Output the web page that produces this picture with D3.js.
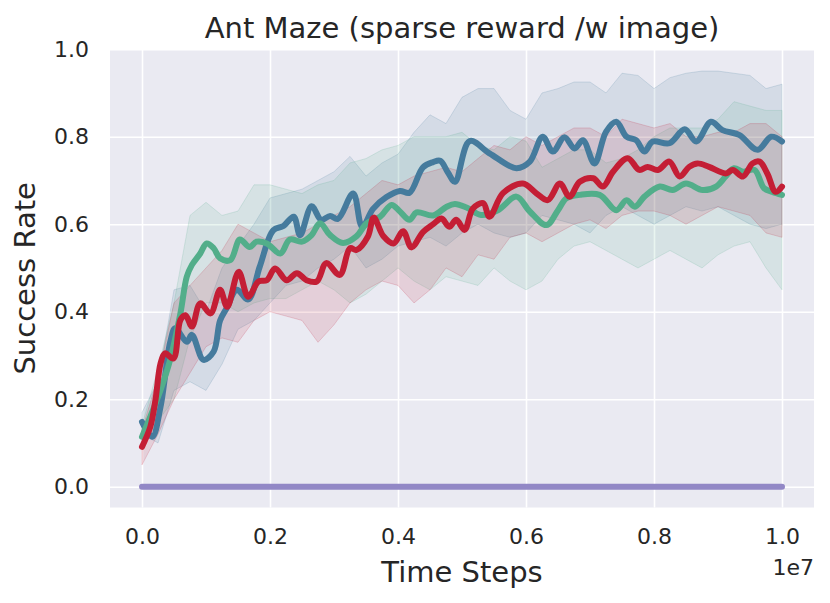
<!DOCTYPE html>
<html lang="en">
<head>
  <meta charset="UTF-8" />
  <title>Ant Maze</title>
  <script src="https://d3js.org/d3.v7.min.js"></script>
  <style>
    body {
      margin: 0;
      background-color: #fff;
      font-family: 'DejaVu Sans', sans-serif;
    }
    svg text {
      fill: #262626;
    }
  </style>
</head>
<body>
  <svg id="chart" width="830" height="603"></svg>

  <script>
    // x values are in units of 1e7 time steps
    const xTicks = [0, 0.2, 0.4, 0.6, 0.8, 1.0];
    const yTicks = [0, 0.2, 0.4, 0.6, 0.8, 1.0];

    const blueMean = [
      [0, 0.148], [0.016, 0.114], [0.029, 0.183], [0.044, 0.33], [0.052, 0.362], [0.07, 0.331],
      [0.078, 0.347], [0.096, 0.29], [0.112, 0.309], [0.122, 0.38], [0.133, 0.41], [0.148, 0.45],
      [0.166, 0.428], [0.184, 0.503], [0.205, 0.586], [0.221, 0.596], [0.237, 0.617], [0.247, 0.575],
      [0.265, 0.641], [0.28, 0.61], [0.294, 0.619], [0.306, 0.612], [0.33, 0.67], [0.344, 0.594],
      [0.361, 0.635], [0.382, 0.662], [0.403, 0.676], [0.418, 0.672], [0.439, 0.73], [0.455, 0.742],
      [0.466, 0.745], [0.478, 0.718], [0.489, 0.697], [0.512, 0.79], [0.543, 0.762], [0.585, 0.728],
      [0.606, 0.743], [0.626, 0.8], [0.642, 0.766], [0.66, 0.799], [0.676, 0.773], [0.689, 0.792],
      [0.707, 0.739], [0.725, 0.811], [0.741, 0.834], [0.757, 0.8], [0.772, 0.792], [0.785, 0.766],
      [0.798, 0.789], [0.824, 0.785], [0.848, 0.817], [0.866, 0.789], [0.889, 0.834], [0.907, 0.815],
      [0.933, 0.804], [0.962, 0.77], [0.983, 0.8], [1.0, 0.789]
    ];

    const greenMean = [
      [0, 0.114], [0.013, 0.16], [0.029, 0.221], [0.044, 0.29], [0.06, 0.396], [0.07, 0.48],
      [0.078, 0.507], [0.091, 0.533], [0.101, 0.556], [0.112, 0.545], [0.122, 0.522], [0.138, 0.518],
      [0.153, 0.565], [0.168, 0.548], [0.179, 0.56], [0.195, 0.556], [0.216, 0.533], [0.231, 0.565],
      [0.25, 0.56], [0.265, 0.575], [0.278, 0.602], [0.294, 0.575], [0.314, 0.557], [0.335, 0.572],
      [0.351, 0.602], [0.372, 0.617], [0.39, 0.644], [0.403, 0.629], [0.418, 0.61], [0.429, 0.627],
      [0.455, 0.62], [0.476, 0.64], [0.489, 0.646], [0.507, 0.638], [0.53, 0.621], [0.556, 0.632],
      [0.585, 0.663], [0.606, 0.629], [0.632, 0.598], [0.65, 0.632], [0.663, 0.659], [0.684, 0.667],
      [0.715, 0.667], [0.741, 0.632], [0.757, 0.655], [0.77, 0.64], [0.785, 0.663], [0.809, 0.686],
      [0.829, 0.678], [0.85, 0.693], [0.876, 0.678], [0.897, 0.686], [0.912, 0.709], [0.925, 0.728],
      [0.939, 0.72], [0.957, 0.724], [0.972, 0.682], [0.985, 0.674], [1.0, 0.667]
    ];

    const redMean = [
      [0, 0.091], [0.013, 0.137], [0.021, 0.198], [0.029, 0.282], [0.036, 0.305], [0.049, 0.293],
      [0.06, 0.381], [0.068, 0.392], [0.078, 0.366], [0.091, 0.419], [0.107, 0.396], [0.122, 0.45],
      [0.133, 0.411], [0.151, 0.491], [0.166, 0.434], [0.182, 0.469], [0.195, 0.472], [0.208, 0.499],
      [0.226, 0.472], [0.242, 0.488], [0.257, 0.472], [0.273, 0.469], [0.288, 0.511], [0.309, 0.484],
      [0.325, 0.545], [0.335, 0.541], [0.353, 0.572], [0.362, 0.615], [0.377, 0.573], [0.393, 0.556],
      [0.408, 0.584], [0.421, 0.547], [0.439, 0.582], [0.455, 0.6], [0.468, 0.613], [0.48, 0.594],
      [0.491, 0.61], [0.504, 0.587], [0.517, 0.636], [0.533, 0.648], [0.543, 0.617], [0.564, 0.671],
      [0.595, 0.693], [0.616, 0.671], [0.634, 0.655], [0.653, 0.693], [0.668, 0.663], [0.684, 0.697],
      [0.705, 0.705], [0.72, 0.686], [0.736, 0.72], [0.759, 0.751], [0.777, 0.724], [0.79, 0.731],
      [0.806, 0.724], [0.824, 0.743], [0.84, 0.709], [0.855, 0.731], [0.868, 0.739], [0.886, 0.731],
      [0.912, 0.716], [0.923, 0.724], [0.939, 0.709], [0.954, 0.739], [0.965, 0.743], [0.977, 0.716],
      [0.99, 0.674], [1.0, 0.686]
    ];

    const purpleMean = [[0, 0], [1.0, 0]];

    // shaded spread, sampled every 0.025e7 steps
    const bandSteps = [
      0, 0.025, 0.05, 0.075, 0.1, 0.125, 0.15, 0.175, 0.2, 0.225, 0.25, 0.275, 0.3, 0.325,
      0.35, 0.375, 0.4, 0.425, 0.45, 0.475, 0.5, 0.525, 0.55, 0.575, 0.6, 0.625, 0.65, 0.675,
      0.7, 0.725, 0.75, 0.775, 0.8, 0.825, 0.85, 0.875, 0.9, 0.925, 0.95, 0.975, 1.0
    ];
    const blueLow = [
      0.12, 0.10, 0.22, 0.24, 0.22, 0.28, 0.36, 0.38, 0.42, 0.46, 0.47, 0.50, 0.52, 0.55,
      0.50, 0.52, 0.55, 0.56, 0.57, 0.55, 0.58, 0.60, 0.58, 0.57, 0.58, 0.62, 0.61, 0.60,
      0.58, 0.62, 0.64, 0.62, 0.60, 0.62, 0.64, 0.63, 0.64, 0.62, 0.60, 0.59, 0.60
    ];
    const blueHigh = [
      0.17, 0.24, 0.45, 0.46, 0.40, 0.50, 0.55, 0.60, 0.66, 0.67, 0.68, 0.70, 0.72, 0.755,
      0.71, 0.74, 0.76, 0.81, 0.85, 0.83, 0.89, 0.91, 0.91, 0.86, 0.84, 0.90, 0.91, 0.925,
      0.925, 0.90, 0.945, 0.94, 0.91, 0.935, 0.945, 0.95, 0.95, 0.945, 0.94, 0.91, 0.92
    ];
    const greenLow = [
      0.09, 0.15, 0.20, 0.34, 0.42, 0.42, 0.40, 0.42, 0.43, 0.43, 0.45, 0.47, 0.45, 0.42,
      0.44, 0.47, 0.50, 0.47, 0.45, 0.48, 0.47, 0.46, 0.50, 0.47, 0.45, 0.47, 0.52, 0.55,
      0.56, 0.54, 0.52, 0.50, 0.52, 0.54, 0.52, 0.50, 0.53, 0.55, 0.56, 0.50, 0.45
    ];
    const greenHigh = [
      0.14, 0.27, 0.42, 0.62, 0.65, 0.62, 0.63, 0.69, 0.69, 0.68, 0.67, 0.69, 0.70, 0.74,
      0.75, 0.77, 0.78, 0.80, 0.80, 0.80, 0.81, 0.78, 0.77, 0.80, 0.79, 0.73, 0.75, 0.77,
      0.77, 0.74, 0.75, 0.77, 0.80, 0.82, 0.82, 0.82, 0.84, 0.88, 0.87, 0.86, 0.86
    ];
    const redLow = [
      0.05, 0.12, 0.20, 0.26, 0.32, 0.34, 0.33, 0.38, 0.40, 0.39, 0.38, 0.33, 0.37, 0.42,
      0.45, 0.47, 0.46, 0.42, 0.45, 0.50, 0.48, 0.53, 0.52, 0.57, 0.58, 0.56, 0.58, 0.60,
      0.61, 0.59, 0.62, 0.63, 0.63, 0.62, 0.60, 0.62, 0.64, 0.63, 0.62, 0.58, 0.57
    ];
    const redHigh = [
      0.13, 0.25, 0.42, 0.46, 0.50, 0.54, 0.60, 0.58, 0.56, 0.57, 0.58, 0.60, 0.62, 0.64,
      0.67, 0.70, 0.69, 0.71, 0.72, 0.73, 0.72, 0.75, 0.78, 0.77, 0.80, 0.78, 0.80, 0.82,
      0.82, 0.80, 0.84, 0.83, 0.82, 0.83, 0.80, 0.80, 0.81, 0.81, 0.83, 0.83, 0.80
    ];

    const series = [
      {name: "blue", color: "#457b9d", mean: blueMean, low: blueLow, high: blueHigh},
      {name: "green", color: "#52ae8a", mean: greenMean, low: greenLow, high: greenHigh},
      {name: "red", color: "#c41e35", mean: redMean, low: redLow, high: redHigh}
    ];

    const svg = d3.select("#chart");
    const margin = {top: 49.2, right: 16, bottom: 95.5, left: 110};
    const width = +svg.attr("width") - margin.left - margin.right,
          height = +svg.attr("height") - margin.top - margin.bottom;

    const x = d3.scaleLinear().domain([-0.05, 1.05]).range([0, width]);
    const y = d3.scaleLinear().domain([-0.0476, 1.0]).range([height, 0]);

    const g = svg.append("g").attr("transform", `translate(${margin.left},${margin.top})`);

    g.append("rect")
      .attr("width", width)
      .attr("height", height)
      .attr("fill", "#eaeaf2");

    g.append("clipPath").attr("id", "clip")
      .append("rect").attr("width", width).attr("height", height);

    // grid
    const gridX = g.append("g")
      .attr("transform", `translate(0,${height})`)
      .call(d3.axisBottom(x).tickValues(xTicks).tickSize(-height).tickFormat(""));
    const gridY = g.append("g")
      .call(d3.axisLeft(y).tickValues(yTicks).tickSize(-width).tickFormat(""));
    [gridX, gridY].forEach(a => {
      a.select(".domain").remove();
      a.selectAll("line").attr("stroke", "#fff").attr("stroke-width", 1.6);
    });

    const plot = g.append("g").attr("clip-path", "url(#clip)");

    const band = d3.area()
      .x((d, i) => x(bandSteps[i]))
      .y0(d => y(d[0]))
      .y1(d => y(d[1]));

    series.forEach(s => {
      plot.append("path")
        .datum(s.low.map((v, i) => [v, s.high[i]]))
        .attr("fill", s.color)
        .attr("fill-opacity", 0.13)
        .attr("stroke", s.color)
        .attr("stroke-opacity", 0.18)
        .attr("stroke-width", 1)
        .attr("d", band);
    });

    const line = d3.line()
      .x(d => x(d[0]))
      .y(d => y(d[1]))
      .curve(d3.curveCatmullRom.alpha(0.5));

    series.forEach(s => {
      plot.append("path")
        .datum(s.mean)
        .attr("fill", "none")
        .attr("stroke", s.color)
        .attr("stroke-width", 6)
        .attr("stroke-linecap", "round")
        .attr("stroke-linejoin", "round")
        .attr("d", line);
    });

    plot.append("path")
      .datum(purpleMean)
      .attr("fill", "none")
      .attr("stroke", "#9288c6")
      .attr("stroke-width", 6)
      .attr("stroke-linecap", "round")
      .attr("d", d3.line().x(d => x(d[0])).y(d => y(d[1])));

    // tick labels
    const xAxis = g.append("g")
      .attr("transform", `translate(0,${height})`)
      .call(d3.axisBottom(x).tickValues(xTicks).tickSize(0).tickPadding(21).tickFormat(d3.format(".1f")));
    const yAxis = g.append("g")
      .call(d3.axisLeft(y).tickValues(yTicks).tickSize(0).tickPadding(21).tickFormat(d3.format(".1f")));
    [xAxis, yAxis].forEach(a => {
      a.select(".domain").remove();
      a.selectAll("text")
        .attr("fill", "#262626")
        .style("font-size", "22px")
        .style("font-family", "'DejaVu Sans', sans-serif");
    });

    g.append("text")
      .attr("x", width)
      .attr("y", height + 68)
      .attr("text-anchor", "end")
      .style("font-size", "22px")
      .text("1e7");

    g.append("text")
      .attr("x", width / 2)
      .attr("y", height + 75)
      .attr("text-anchor", "middle")
      .style("font-size", "29px")
      .text("Time Steps");

    g.append("text")
      .attr("transform", `translate(${35 - margin.left},${height / 2}) rotate(-90)`)
      .attr("text-anchor", "middle")
      .style("font-size", "29px")
      .text("Success Rate");

    svg.append("text")
      .attr("x", margin.left + width / 2)
      .attr("y", 38)
      .attr("text-anchor", "middle")
      .style("font-size", "29px")
      .text("Ant Maze (sparse reward /w image)");
  </script>
</body>
</html>
